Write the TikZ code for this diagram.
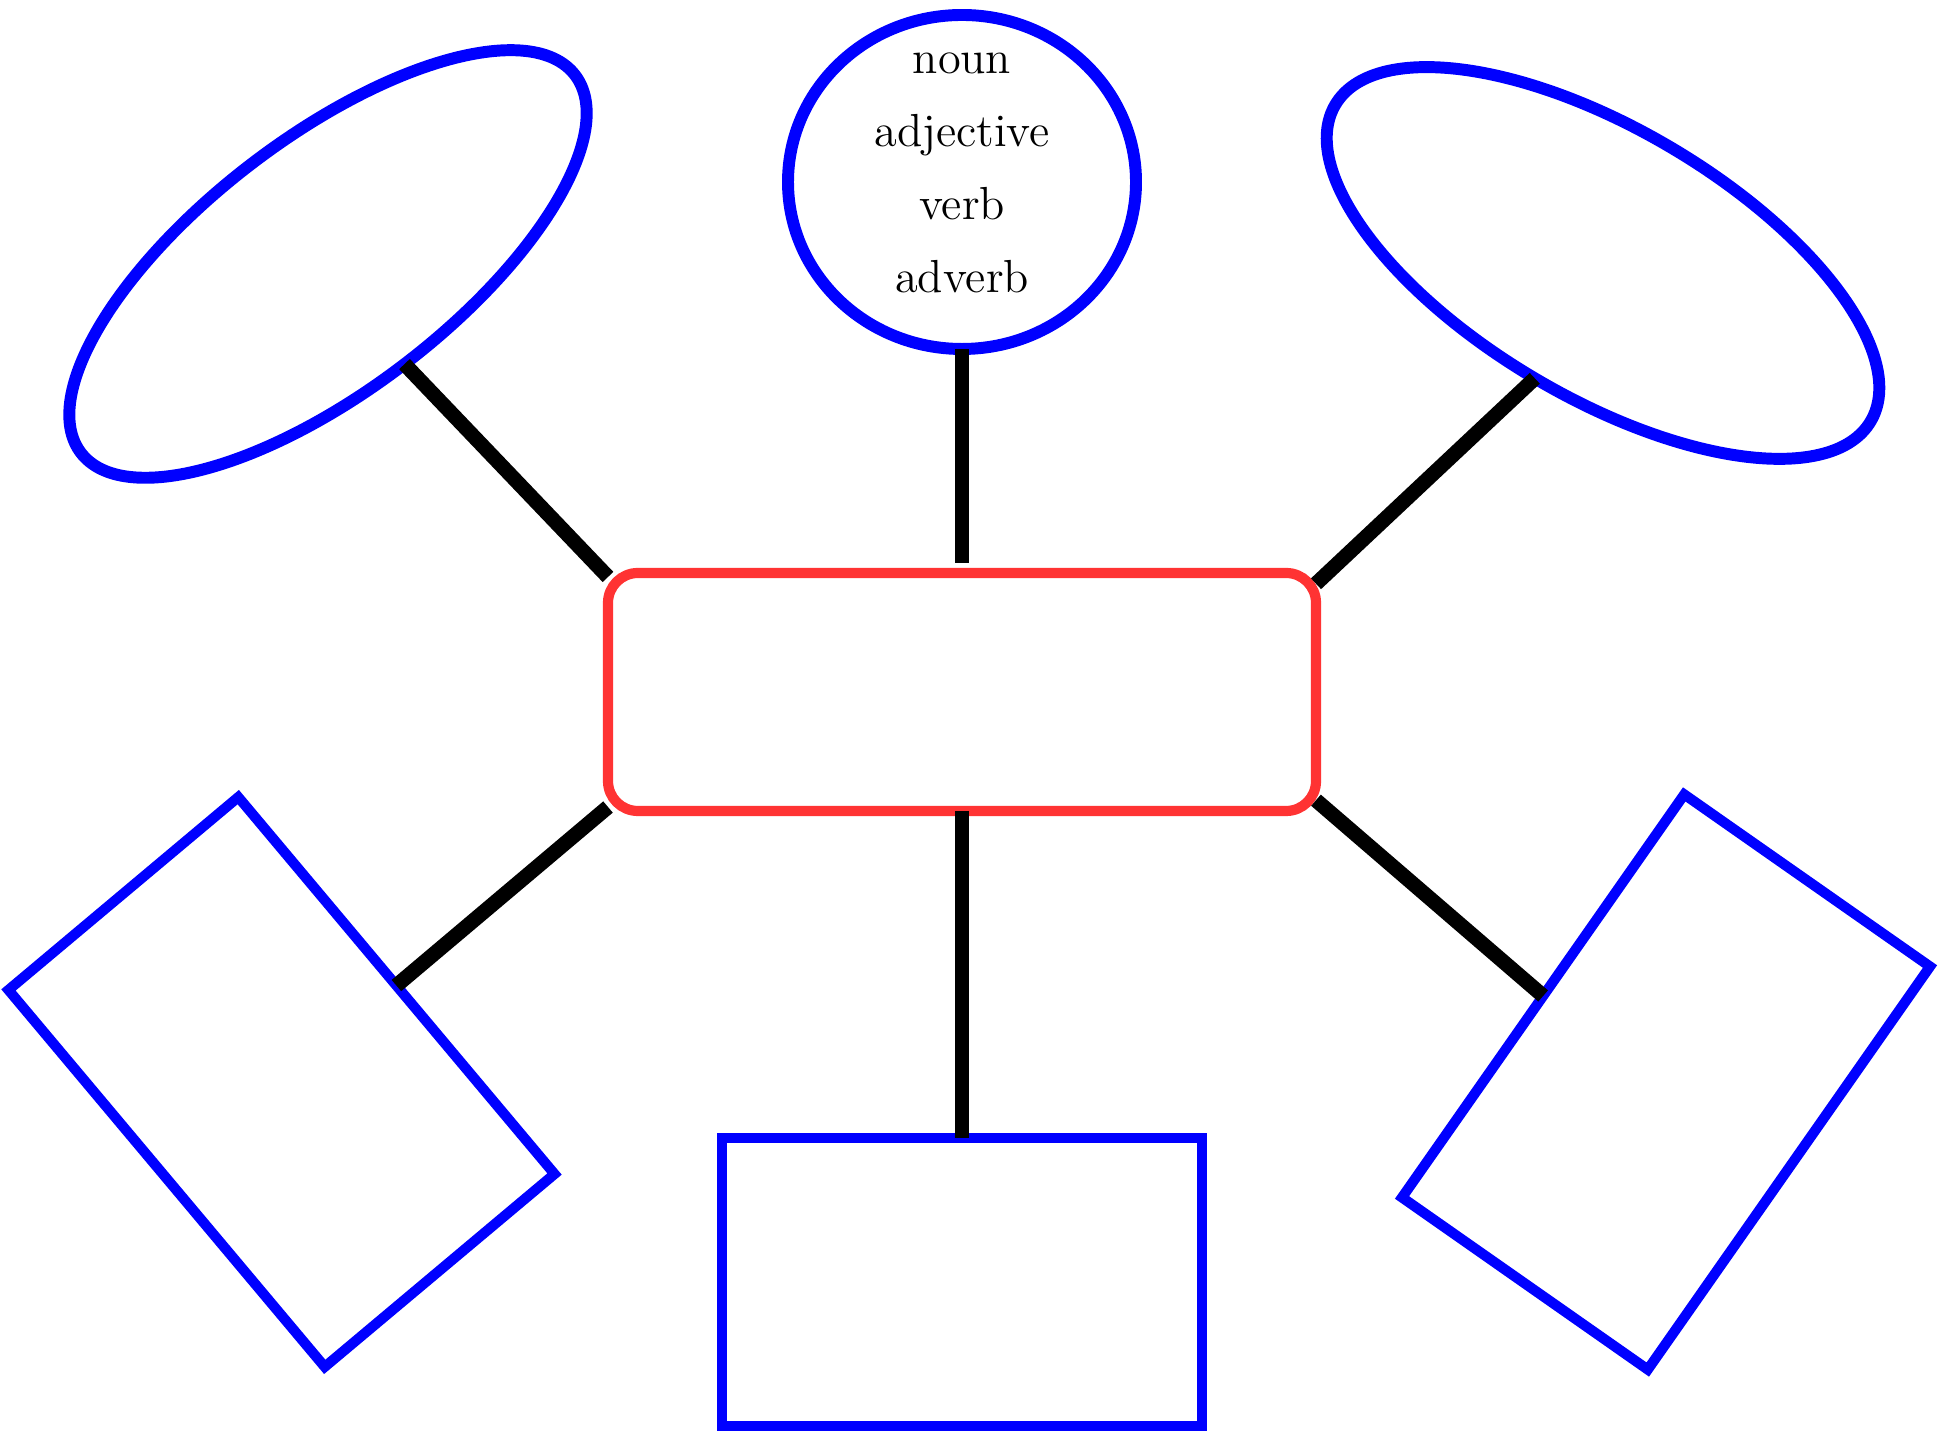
\documentclass[tikz,border=0pt]{standalone}
\usepackage{xcolor}
\usetikzlibrary{shapes.geometric, positioning}
\definecolor{ringblue}{RGB}{0,0,255}
\definecolor{hubred}{RGB}{255,51,51}

\begin{document}
\begin{tikzpicture}[font=\fontsize{13.2}{20.8}\selectfont,
	bluering/.style={draw=ringblue, line width=3.4pt, ellipse, inner sep=0pt, outer sep=0pt},
	bluebox/.style={draw=ringblue, line width=2.9pt, rectangle, inner sep=0pt, outer sep=0pt},
	spoke/.style={line width=4.2pt, black}]
			\useasboundingbox (0,0) rectangle (19.54,14.35);
			% centre box
			\node[draw=hubred, line width=2.9pt, rounded corners=8.5pt, outer sep=0pt,
			minimum width=7.08cm, minimum height=2.38cm] (hub) at (9.62,7.43) {};
			% ellipses on top
			\node[bluering, minimum width=6.22cm, minimum height=2.52cm, rotate=37.4]
			(wordsL) at (3.28,11.71) {};
			\node[bluering, minimum width=3.48cm, minimum height=3.34cm]
			(wordsM) at (9.62,12.53) {};
			\node[align=center] (kinds) at (9.62,12.62)
			{noun\\ adjective\\ verb\\ adverb};
			\node[bluering, minimum width=6.22cm, minimum height=2.68cm, rotate=-30.6]
			(wordsR) at (16.03,11.72) {};
			% boxes below
			\node[bluebox, minimum width=3.0cm, minimum height=4.92cm, rotate=40]
			(boxL) at (2.815,3.53) {};
			\node[bluebox, minimum width=4.80cm, minimum height=2.88cm]
			(boxM) at (9.62,1.53) {};
			\node[bluebox, minimum width=3.0cm, minimum height=4.92cm, rotate=-35]
			(boxR) at (16.66,3.53) {};
			% spokes
			\draw[spoke] (wordsL.south) -- (hub.162);
			\draw[spoke] (wordsM.south) -- ([yshift=0.1cm]hub.north);
			\draw[spoke] (wordsR.south) -- (hub.17);
			\draw[spoke] (hub.198) -- (boxL.east);
			\draw[spoke] (hub.south) -- (boxM.north);
			\draw[spoke] (hub.-17) -- (boxR.west);
		\end{tikzpicture}
\end{document}
